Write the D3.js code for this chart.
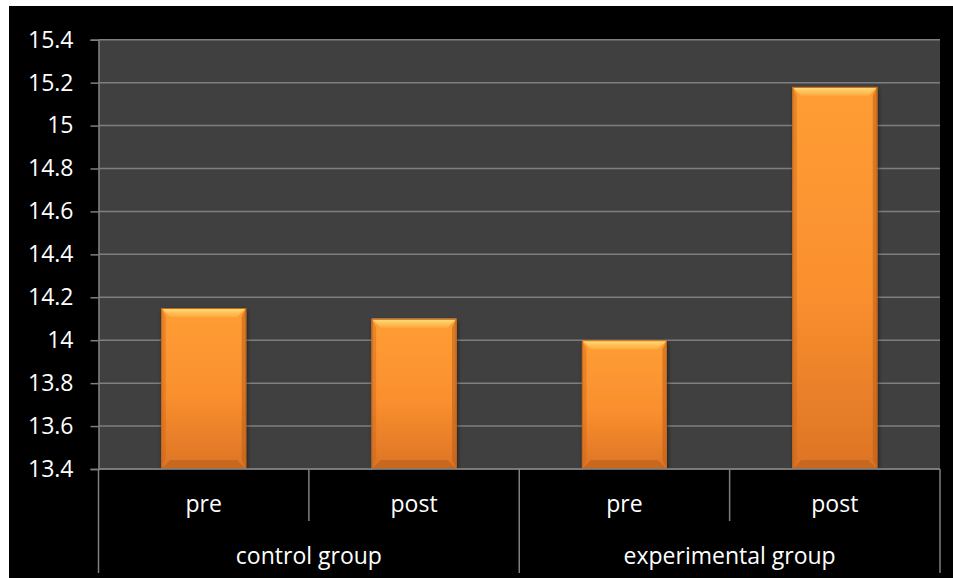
<!DOCTYPE html>
<html>
<head>
<meta charset="utf-8">
<script src="https://cdn.jsdelivr.net/npm/d3@7/dist/d3.min.js"></script>
<style>
  html, body { margin: 0; padding: 0; background: #ffffff; }
  svg { display: block; }
  text { font-family: "Open Sans", "Noto Sans", sans-serif; fill: #ffffff; }
</style>
</head>
<body>
<svg id="chart" width="953" height="578"></svg>
<script>
// Mean scores by group and phase
const groups = ["control group", "experimental group"];
const phases = ["pre", "post"];
const barKeys = ["control-pre", "control-post", "experimental-pre", "experimental-post"];
const barGroup = [0, 0, 1, 1];
const barPhase = [0, 1, 0, 1];
const values = [14.15, 14.1, 14.0, 15.18];
const yTicks = [13.4, 13.6, 13.8, 14, 14.2, 14.4, 14.6, 14.8, 15, 15.2, 15.4];
const yDomain = [13.4, 15.4];

const svg = d3.select("#chart");
const W = 953, H = 578;
const plot = { left: 98.5, right: 940, top: 39.7, bottom: 469 };
const fontSize = 23;

// frame
svg.append("rect").attr("x", 0).attr("y", 0).attr("width", W).attr("height", H).attr("fill", "#ffffff");
svg.append("rect").attr("x", 9).attr("y", 6).attr("width", W - 9).attr("height", H - 6).attr("fill", "#000000");

const x = d3.scaleBand().domain(barKeys).range([plot.left, plot.right]).paddingInner(0.596).paddingOuter(0.298);
const slot = d3.scaleBand().domain(barKeys).range([plot.left, plot.right]).padding(0);
const y = d3.scaleLinear().domain(yDomain).range([plot.bottom, plot.top]);

// plot background
svg.append("rect")
  .attr("x", plot.left).attr("y", plot.top)
  .attr("width", plot.right - plot.left).attr("height", plot.bottom - plot.top)
  .attr("fill", "#404040");

// gridlines
svg.append("g").selectAll("line").data(yTicks).join("line")
  .attr("x1", plot.left).attr("x2", plot.right)
  .attr("y1", d => y(d)).attr("y2", d => y(d))
  .attr("stroke", "#7f7f7f").attr("stroke-width", 1.5);

// y axis
const yAxis = d3.axisLeft(y).tickValues(yTicks).tickFormat(d3.format("~g")).tickSize(8).tickPadding(17);
const gy = svg.append("g").attr("transform", `translate(${plot.left},0)`).call(yAxis);
gy.select(".domain").attr("stroke", "#7f7f7f").attr("stroke-width", 1.5);
gy.selectAll(".tick line").attr("stroke", "#7f7f7f").attr("stroke-width", 1.5);
gy.selectAll(".tick text").attr("font-size", fontSize).attr("fill", "#ffffff")
  .style("font-family", "'Open Sans', sans-serif");

// bar fills
const defs = svg.append("defs");
const body = defs.append("linearGradient").attr("id", "barBody").attr("x1", 0).attr("y1", 0).attr("x2", 0).attr("y2", 1);
body.append("stop").attr("offset", "0%").attr("stop-color", "#ff9d34");
body.append("stop").attr("offset", "55%").attr("stop-color", "#f98f2e");
body.append("stop").attr("offset", "100%").attr("stop-color", "#dd7426");
const topBevel = defs.append("linearGradient").attr("id", "barTop").attr("x1", 0).attr("y1", 0).attr("x2", 0).attr("y2", 1);
topBevel.append("stop").attr("offset", "0%").attr("stop-color", "#ffe07a");
topBevel.append("stop").attr("offset", "100%").attr("stop-color", "#ffa83e");
const shadow = defs.append("filter").attr("id", "barShadow").attr("x", "-20%").attr("y", "-5%").attr("width", "140%").attr("height", "115%");
shadow.append("feDropShadow").attr("dx", 1).attr("dy", 2).attr("stdDeviation", 2).attr("flood-color", "#000").attr("flood-opacity", 0.55);

const bev = 9;
const bars = svg.append("g").selectAll("g").data(values).join("g");
bars.each(function (v, i) {
  const g = d3.select(this);
  const x0 = x(barKeys[i]), w = x.bandwidth();
  const yt = y(v), yb = y(yDomain[0]);
  g.append("rect").attr("x", x0).attr("y", yt).attr("width", w).attr("height", yb - yt)
    .attr("fill", "url(#barBody)").attr("filter", "url(#barShadow)");
  // top bevel
  g.append("path").attr("d", `M${x0},${yt}L${x0 + w},${yt}L${x0 + w - bev},${yt + bev}L${x0 + bev},${yt + bev}Z`)
    .attr("fill", "url(#barTop)");
  // side bevels
  g.append("path").attr("d", `M${x0},${yt}L${x0 + bev * 0.5},${yt + bev}L${x0 + bev * 0.5},${yb - bev}L${x0},${yb}Z`)
    .attr("fill", "#c86418").attr("opacity", 0.4);
  g.append("path").attr("d", `M${x0 + w},${yt}L${x0 + w - bev * 0.5},${yt + bev}L${x0 + w - bev * 0.5},${yb - bev}L${x0 + w},${yb}Z`)
    .attr("fill", "#b55a14").attr("opacity", 0.5);
  // bottom bevel
  g.append("path").attr("d", `M${x0},${yb}L${x0 + w},${yb}L${x0 + w - bev},${yb - bev}L${x0 + bev},${yb - bev}Z`)
    .attr("fill", "#b85f1a").attr("opacity", 0.6);
  g.append("rect").attr("x", x0 + 0.5).attr("y", yt + 0.5).attr("width", w - 1).attr("height", yb - yt - 1)
    .attr("fill", "none").attr("stroke", "#c4661c").attr("stroke-width", 1);
});

// redraw the baseline over the bars
svg.append("line").attr("x1", plot.left).attr("x2", plot.right)
  .attr("y1", y(yDomain[0])).attr("y2", y(yDomain[0]))
  .attr("stroke", "#7f7f7f").attr("stroke-width", 1.5);

// multi-level category axis
const axisG = svg.append("g");
const innerBottom = 521, outerBottom = 573;
const slotEdges = barKeys.map(k => slot(k)).concat([plot.right]);
slotEdges.forEach((sx, i) => {
  const isGroupEdge = i === 0 || i === slotEdges.length - 1 || barPhase[i] === 0;
  axisG.append("line").attr("x1", sx).attr("x2", sx)
    .attr("y1", plot.bottom).attr("y2", isGroupEdge ? outerBottom : innerBottom)
    .attr("stroke", "#7f7f7f").attr("stroke-width", 1.5);
});
axisG.selectAll("text.phase").data(barKeys).join("text").attr("class", "phase")
  .attr("x", k => slot(k) + slot.bandwidth() / 2).attr("y", 512)
  .attr("text-anchor", "middle").attr("font-size", fontSize)
  .text((k, i) => phases[barPhase[i]]);
axisG.selectAll("text.group").data(groups).join("text").attr("class", "group")
  .attr("x", (g, gi) => {
    const ks = barKeys.filter((k, i) => barGroup[i] === gi);
    return (slot(ks[0]) + slot(ks[ks.length - 1]) + slot.bandwidth()) / 2;
  })
  .attr("y", 564).attr("text-anchor", "middle").attr("font-size", fontSize)
  .text(g => g);
</script>
</body>
</html>
